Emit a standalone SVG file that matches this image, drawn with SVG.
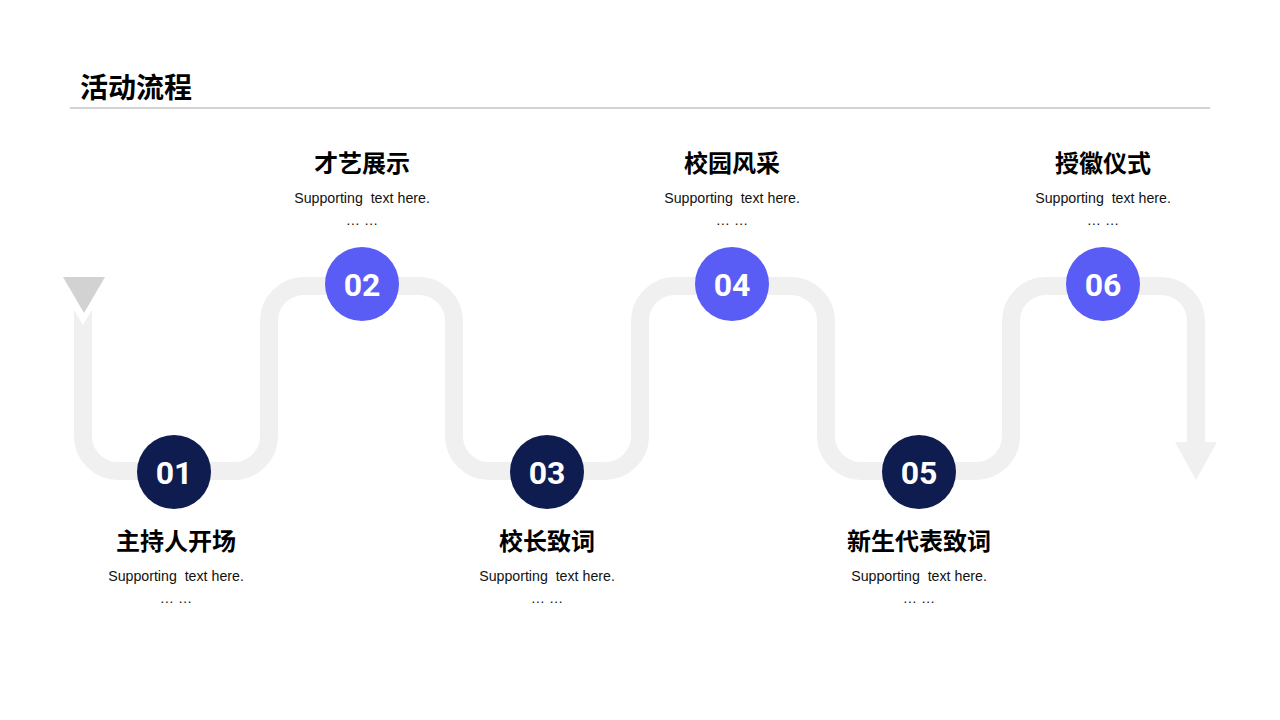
<svg xmlns="http://www.w3.org/2000/svg" width="1280" height="720" viewBox="0 0 1280 720">
<style>
.title{font-family:"Liberation Sans","Noto Sans CJK SC",sans-serif;font-weight:bold;font-size:28px;fill:#000}
.head{font-family:"Liberation Sans","Noto Sans CJK SC",sans-serif;font-weight:bold;font-size:24px;fill:#000;text-anchor:middle}
.sub{font-family:"Liberation Sans","Noto Sans CJK SC",sans-serif;font-size:14.2px;fill:#111;text-anchor:middle;white-space:pre}
.num{font-family:Roboto,"Liberation Sans",sans-serif;font-weight:bold;font-size:32px;fill:#fff;text-anchor:middle}
.dark{fill:#0e1c50}
.purple{fill:#5a5cf6}
</style>
<rect width="1280" height="720" fill="#fff"/>
<g id="header">
<text class="title" x="80" y="98">活动流程</text>
<line x1="70" y1="108" x2="1210" y2="108" stroke="#a6a6a6" stroke-width="1"/>
</g>
<g id="connectors">
<polygon points="63,277 105,277 84,313" fill="#d2d2d2"/>
<polygon points="74,310 83,325 92,310 92,332 74,332" fill="#f0f0f0"/>
<path d="M83,330 V436 A35,35 0 0 0 118,471 H234 A35,35 0 0 0 269,436 V321 A35,35 0 0 1 304,286 H419 A35,35 0 0 1 454,321 V436 A35,35 0 0 0 489,471 H605 A35,35 0 0 0 640,436 V321 A35,35 0 0 1 675,286 H791 A35,35 0 0 1 826,321 V436 A35,35 0 0 0 861,471 H976 A35,35 0 0 0 1011,436 V321 A35,35 0 0 1 1046,286 H1161 A35,35 0 0 1 1196,321 V444" fill="none" stroke="#f0f0f0" stroke-width="18"/>
<polygon points="1175,442 1217,442 1196,480" fill="#f0f0f0"/>
</g>
<g id="step01">
<circle class="dark" cx="174" cy="472" r="37"/>
<text class="num" x="174" y="484">01</text>
<text class="head" x="176" y="550">主持人开场</text>
<text class="sub" x="176" y="581">Supporting  text here.</text>
<text class="sub" x="176" y="603">… …</text>
</g>
<g id="step02">
<circle class="purple" cx="362" cy="284" r="37"/>
<text class="num" x="362" y="296">02</text>
<text class="head" x="362" y="172">才艺展示</text>
<text class="sub" x="362" y="203">Supporting  text here.</text>
<text class="sub" x="362" y="225">… …</text>
</g>
<g id="step03">
<circle class="dark" cx="547" cy="472" r="37"/>
<text class="num" x="547" y="484">03</text>
<text class="head" x="547" y="550">校长致词</text>
<text class="sub" x="547" y="581">Supporting  text here.</text>
<text class="sub" x="547" y="603">… …</text>
</g>
<g id="step04">
<circle class="purple" cx="732" cy="284" r="37"/>
<text class="num" x="732" y="296">04</text>
<text class="head" x="732" y="172">校园风采</text>
<text class="sub" x="732" y="203">Supporting  text here.</text>
<text class="sub" x="732" y="225">… …</text>
</g>
<g id="step05">
<circle class="dark" cx="919" cy="472" r="37"/>
<text class="num" x="919" y="484">05</text>
<text class="head" x="919" y="550">新生代表致词</text>
<text class="sub" x="919" y="581">Supporting  text here.</text>
<text class="sub" x="919" y="603">… …</text>
</g>
<g id="step06">
<circle class="purple" cx="1103" cy="284" r="37"/>
<text class="num" x="1103" y="296">06</text>
<text class="head" x="1103" y="172">授徽仪式</text>
<text class="sub" x="1103" y="203">Supporting  text here.</text>
<text class="sub" x="1103" y="225">… …</text>
</g>
</svg>
